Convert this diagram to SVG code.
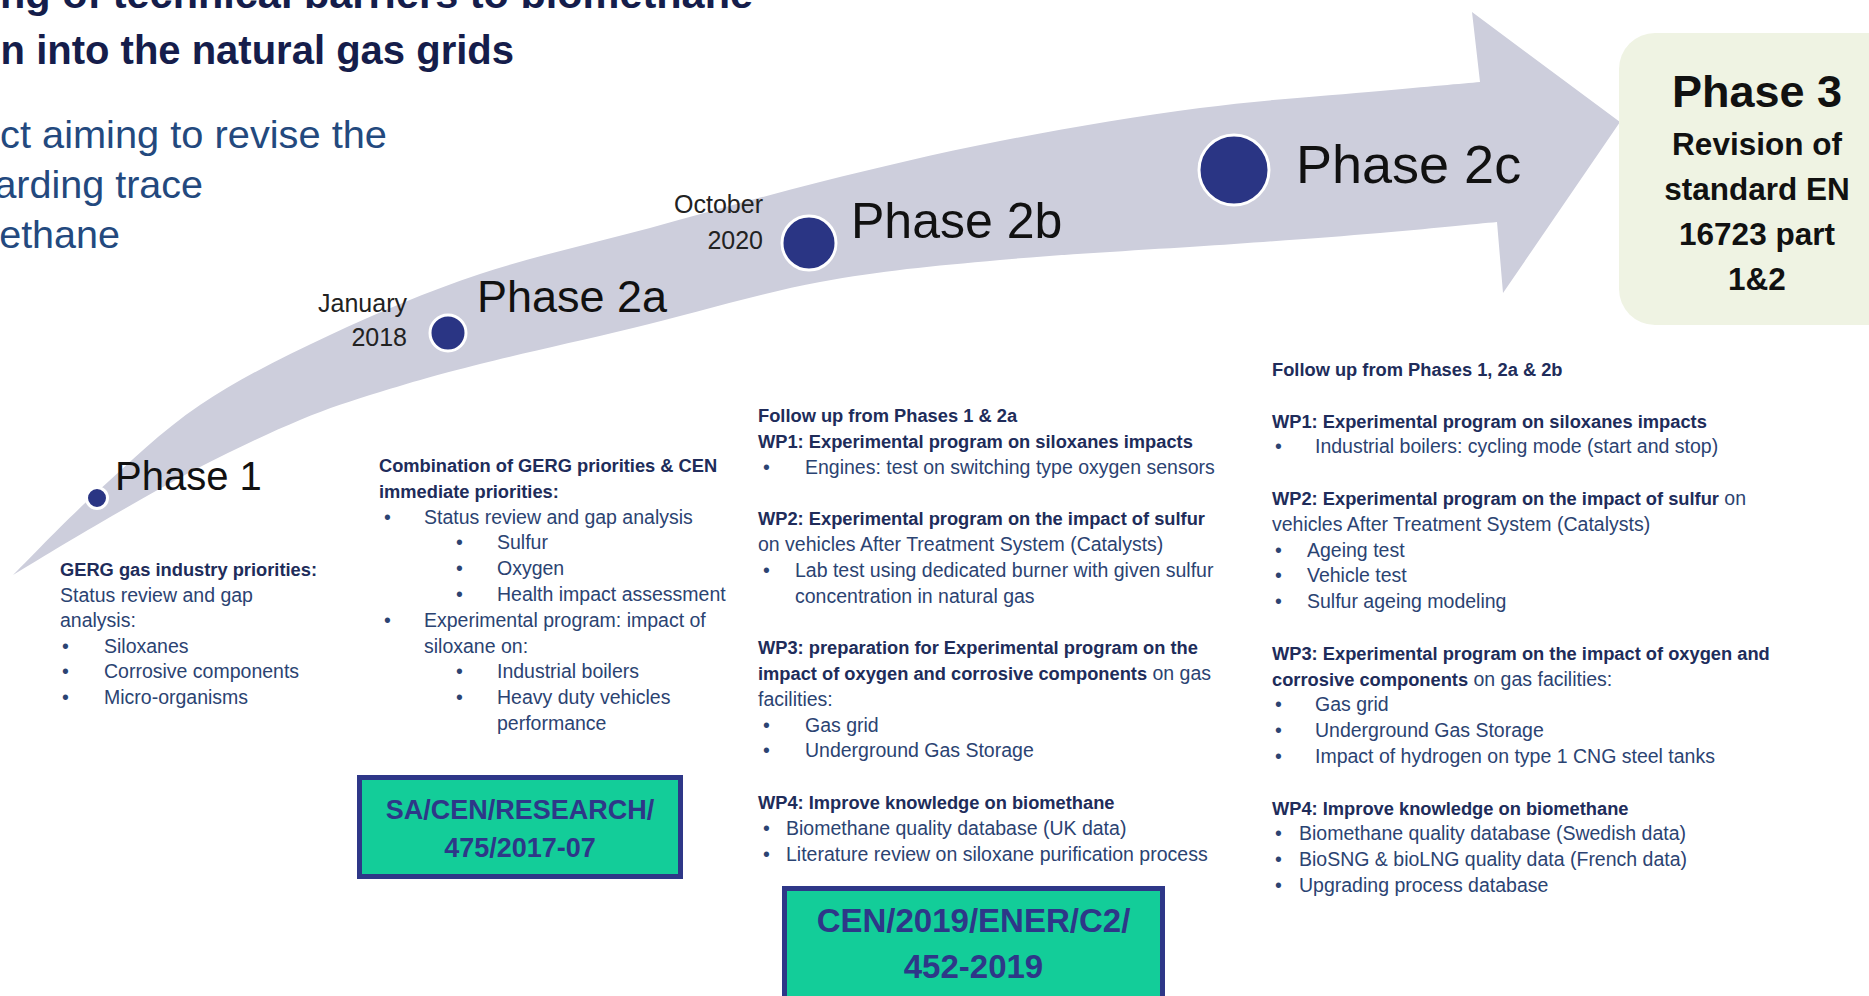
<svg xmlns="http://www.w3.org/2000/svg" width="1869" height="996" viewBox="0 0 1869 996">
<style>
text{font-family:"Liberation Sans",Arial,sans-serif}
.title{font-size:40px;font-weight:bold;fill:#151d4b}
.sub{font-size:39.5px;fill:#23497e}
.lab{fill:#111111}
.date{font-size:25px;fill:#222222}
.b{font-size:18.3px;font-weight:bold;fill:#202c5a}
.r{font-size:19.5px;fill:#2b4372}
.rb{font-weight:bold;fill:#202c5a}
.dot{fill:#2a3584;stroke:#ffffff;stroke-width:3}
.code{fill:#13cd99;stroke:#2e3788;stroke-width:5}
.codet{font-weight:bold;fill:#2e3788;text-anchor:middle}
.p3{font-weight:bold;fill:#111111;text-anchor:middle}
</style>
<rect width="1869" height="996" fill="#ffffff"/>

<g id="title">
<text class="title" x="0" y="8" textLength="753" lengthAdjust="spacingAndGlyphs">ng of technical barriers to biomethane</text>
<text class="title" x="514" y="64" text-anchor="end">n into the natural gas grids</text>
<text class="sub" x="0" y="148" textLength="387" lengthAdjust="spacingAndGlyphs">ct aiming to revise the</text>
<text class="sub" x="203" y="198" text-anchor="end">arding trace</text>
<text class="sub" x="120" y="248" text-anchor="end">ethane</text>
</g>

<g id="connectors">
<path id="timeline-arrow" fill="#cdcedc" d="M 13,575 C 27,561.2 65.8,520.3 97,492 C 128.2,463.7 161.2,431.2 200,405 C 238.8,378.8 283.3,356.8 330,335 C 376.7,313.2 426.7,291.8 480,274 C 533.3,256.2 593.3,243.3 650,228 C 706.7,212.7 761.7,196.5 820,182 C 878.3,167.5 936.7,153.3 1000,141 C 1063.3,128.7 1136.7,116.3 1200,108 C 1263.3,99.7 1333.3,95.3 1380,91 C 1426.7,86.7 1463.3,83.5 1480,82 L 1472,12 L 1620,122 L 1503,293 L 1497,222 C 1477.5,223.8 1423.8,229.3 1380,233 C 1336.2,236.7 1297.3,239.5 1234,244 C 1170.7,248.5 1069,253.7 1000,260 C 931,266.3 881.2,270.7 820,282 C 758.8,293.3 689.7,314.3 633,328 C 576.3,341.7 522.2,353.3 480,364 C 437.8,374.7 410,382.7 380,392 C 350,401.3 330,407.5 300,420 C 270,432.5 233.3,449.8 200,467 C 166.7,484.2 131.2,505 100,523 C 68.8,541 27.5,566.3 13,575 Z"/>
</g>

<g id="phase1-marker">
<circle class="dot" cx="97" cy="498" r="10.5" stroke-width="2.5"/>
<text class="lab" x="115" y="490" font-size="40">Phase 1</text>
</g>

<g id="phase2a-marker">
<circle class="dot" cx="448" cy="333" r="18"/>
<text class="lab" x="477" y="312" font-size="45">Phase 2a</text>
<text class="date" x="407" y="312" text-anchor="end">January</text>
<text class="date" x="407" y="346" text-anchor="end">2018</text>
</g>

<g id="phase2b-marker">
<circle class="dot" cx="809" cy="243" r="27"/>
<text class="lab" x="851" y="238" font-size="50">Phase 2b</text>
<text class="date" x="763" y="213" text-anchor="end">October</text>
<text class="date" x="763" y="249" text-anchor="end">2020</text>
</g>

<g id="phase2c-marker">
<circle class="dot" cx="1234" cy="170" r="35"/>
<text class="lab" x="1296" y="183" font-size="54">Phase 2c</text>
</g>

<g id="phase3">
<rect x="1619" y="33" width="300" height="292" rx="36" fill="#eff3e3"/>
<text class="p3" x="1757" y="107" font-size="45">Phase 3</text>
<text class="p3" x="1757" y="155" font-size="31.5">Revision of</text>
<text class="p3" x="1757" y="200" font-size="31.5">standard EN</text>
<text class="p3" x="1757" y="245" font-size="31.5">16723 part</text>
<text class="p3" x="1757" y="290" font-size="31.5">1&amp;2</text>
</g>

<g id="phase1-text">
<text class="b" x="60" y="576">GERG gas industry priorities:</text>
<text class="r" x="60" y="601.6">Status review and gap</text>
<text class="r" x="60" y="627.2">analysis:</text>
<text class="r" x="62" y="652.8">•</text><text class="r" x="104" y="652.8">Siloxanes</text>
<text class="r" x="62" y="678.4">•</text><text class="r" x="104" y="678.4">Corrosive components</text>
<text class="r" x="62" y="704">•</text><text class="r" x="104" y="704">Micro-organisms</text>
</g>

<g id="phase2a-text">
<text class="b" x="379" y="472">Combination of GERG priorities &amp; CEN</text>
<text class="b" x="379" y="497.8">immediate priorities:</text>
<text class="r" x="384" y="523.6">•</text><text class="r" x="424" y="523.6">Status review and gap analysis</text>
<text class="r" x="456" y="549.4">•</text><text class="r" x="497" y="549.4">Sulfur</text>
<text class="r" x="456" y="575.2">•</text><text class="r" x="497" y="575.2">Oxygen</text>
<text class="r" x="456" y="601">•</text><text class="r" x="497" y="601">Health impact assessment</text>
<text class="r" x="384" y="626.8">•</text><text class="r" x="424" y="626.8">Experimental program: impact of</text>
<text class="r" x="424" y="652.6">siloxane on:</text>
<text class="r" x="456" y="678.4">•</text><text class="r" x="497" y="678.4">Industrial boilers</text>
<text class="r" x="456" y="704.2">•</text><text class="r" x="497" y="704.2">Heavy duty vehicles</text>
<text class="r" x="497" y="730">performance</text>
</g>

<g id="contract-2a">
<rect class="code" x="359.5" y="777.5" width="321" height="99"/>
<text class="codet" x="520" y="819" font-size="27">SA/CEN/RESEARCH/</text>
<text class="codet" x="520" y="857" font-size="27">475/2017-07</text>
</g>

<g id="phase2b-text">
<text class="b" x="758" y="422">Follow up from Phases 1 &amp; 2a</text>
<text class="b" x="758" y="447.8">WP1: Experimental program on siloxanes impacts</text>
<text class="r" x="763" y="473.6">•</text><text class="r" x="805" y="473.6">Engines: test on switching type oxygen sensors</text>
<text class="b" x="758" y="525.2">WP2: Experimental program on the impact of sulfur</text>
<text class="r" x="758" y="551">on vehicles After Treatment System (Catalysts)</text>
<text class="r" x="763" y="576.8">•</text><text class="r" x="795" y="576.8">Lab test using dedicated burner with given sulfur</text>
<text class="r" x="795" y="602.6">concentration in natural gas</text>
<text class="b" x="758" y="654.2">WP3: preparation for Experimental program on the</text>
<text class="r" x="758" y="680"><tspan class="rb" font-size="18.3px">impact of oxygen and corrosive components</tspan> on gas</text>
<text class="r" x="758" y="705.8">facilities:</text>
<text class="r" x="763" y="731.6">•</text><text class="r" x="805" y="731.6">Gas grid</text>
<text class="r" x="763" y="757.4">•</text><text class="r" x="805" y="757.4">Underground Gas Storage</text>
<text class="b" x="758" y="809">WP4: Improve knowledge on biomethane</text>
<text class="r" x="763" y="834.8">•</text><text class="r" x="786" y="834.8">Biomethane quality database (UK data)</text>
<text class="r" x="763" y="860.6">•</text><text class="r" x="786" y="860.6">Literature review on siloxane purification process</text>
</g>

<g id="contract-2b">
<rect class="code" x="784.5" y="888.5" width="378" height="140"/>
<text class="codet" x="973.5" y="932" font-size="33">CEN/2019/ENER/C2/</text>
<text class="codet" x="973.5" y="978" font-size="33">452-2019</text>
</g>

<g id="phase2c-text">
<text class="b" x="1272" y="376">Follow up from Phases 1, 2a &amp; 2b</text>
<text class="b" x="1272" y="427.6">WP1: Experimental program on siloxanes impacts</text>
<text class="r" x="1275" y="453.4">•</text><text class="r" x="1315" y="453.4">Industrial boilers: cycling mode (start and stop)</text>
<text class="r" x="1272" y="505"><tspan class="rb" font-size="18.3px">WP2: Experimental program on the impact of sulfur</tspan> on</text>
<text class="r" x="1272" y="530.8">vehicles After Treatment System (Catalysts)</text>
<text class="r" x="1275" y="556.6">•</text><text class="r" x="1307" y="556.6">Ageing test</text>
<text class="r" x="1275" y="582.4">•</text><text class="r" x="1307" y="582.4">Vehicle test</text>
<text class="r" x="1275" y="608.2">•</text><text class="r" x="1307" y="608.2">Sulfur ageing modeling</text>
<text class="b" x="1272" y="659.8">WP3: Experimental program on the impact of oxygen and</text>
<text class="r" x="1272" y="685.6"><tspan class="rb" font-size="18.3px">corrosive components</tspan> on gas facilities:</text>
<text class="r" x="1275" y="711.4">•</text><text class="r" x="1315" y="711.4">Gas grid</text>
<text class="r" x="1275" y="737.2">•</text><text class="r" x="1315" y="737.2">Underground Gas Storage</text>
<text class="r" x="1275" y="763">•</text><text class="r" x="1315" y="763">Impact of hydrogen on type 1 CNG steel tanks</text>
<text class="b" x="1272" y="814.6">WP4: Improve knowledge on biomethane</text>
<text class="r" x="1275" y="840.4">•</text><text class="r" x="1299" y="840.4">Biomethane quality database (Swedish data)</text>
<text class="r" x="1275" y="866.2">•</text><text class="r" x="1299" y="866.2">BioSNG &amp; bioLNG quality data (French data)</text>
<text class="r" x="1275" y="892">•</text><text class="r" x="1299" y="892">Upgrading process database</text>
</g>
</svg>
